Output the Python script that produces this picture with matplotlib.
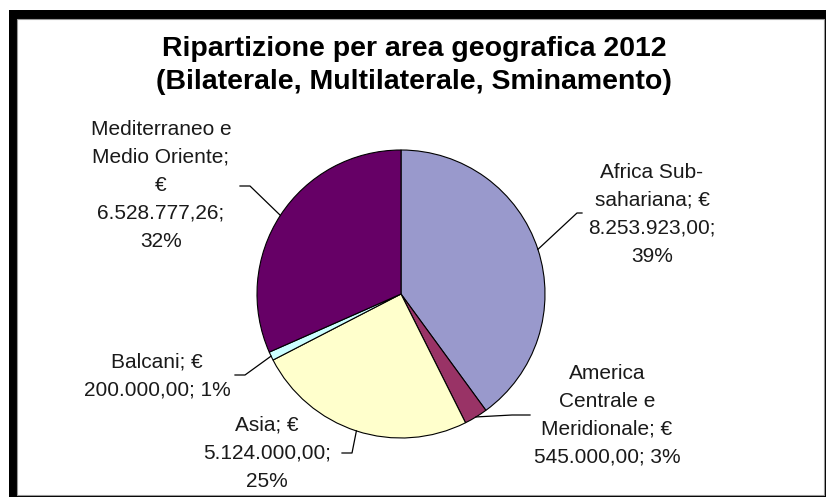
import numpy as np
import matplotlib.pyplot as plt
from matplotlib.patches import Rectangle

plt.rcParams['font.family'] = ['Liberation Sans', 'DejaVu Sans']

# Data
areas = ["Africa Sub-sahariana", "America Centrale e Meridionale", "Asia", "Balcani",
         "Mediterraneo e Medio Oriente"]
amounts = [8253923.00, 545000.00, 5124000.00, 200000.00, 6528777.26]
labels = [
    "Africa Sub-\nsahariana; €\n8.253.923,00;\n39%",
    "America\nCentrale e\nMeridionale; €\n545.000,00; 3%",
    "Asia; €\n5.124.000,00;\n25%",
    "Balcani; €\n200.000,00; 1%",
    "Mediterraneo e\nMedio Oriente;\n€\n6.528.777,26;\n32%",
]
colors = ["#9999CC", "#993366", "#FFFFCC", "#CCFFFF", "#660066"]
title = "Ripartizione per area geografica 2012\n(Bilaterale, Multilaterale, Sminamento)"

# Layout (pixel positions, y measured from the top)
W, H = 827, 498
pie_center = (401, 294)
pie_radius = 144
label_pos = [(652, 214), (607, 415), (267, 453), (157, 376), (161, 185)]
leader_elbow = [(577, 213), (512, 415), (352, 453), (245, 375), (250, 186)]
leader_end = [(582, 213), (530, 415), (342, 453), (235, 375), (240, 186)]

fig = plt.figure(figsize=(W / 100, H / 100), dpi=100)
ax = fig.add_axes([0, 0, 1, 1])

# frame: thick black on top/left, thin on bottom/right
ax.add_patch(Rectangle((9, H - 497), 817, 487, facecolor='black', edgecolor='none', zorder=0))
ax.add_patch(Rectangle((17, H - 495), 807, 476, facecolor='white', edgecolor='#999999',
                       linewidth=0.8, zorder=0))

wedges, _ = ax.pie(amounts, colors=colors, startangle=90, counterclock=False,
                   center=(pie_center[0], H - pie_center[1]), radius=pie_radius,
                   wedgeprops=dict(edgecolor='black', linewidth=0.8))

for w, lab, pos, elb, end in zip(wedges, labels, label_pos, leader_elbow, leader_end):
    mid = np.deg2rad((w.theta1 + w.theta2) / 2)
    ex = pie_center[0] + pie_radius * np.cos(mid)
    ey = H - pie_center[1] + pie_radius * np.sin(mid)
    ax.plot([ex, elb[0], end[0]], [ey, H - elb[1], H - end[1]], color='black', lw=0.9)
    ax.text(pos[0], H - pos[1], lab, ha='center', va='center', multialignment='center',
            fontsize=15, linespacing=1.6, color='#1a1a1a')

ax.text(414, H - 65, title, ha='center', va='center', fontsize=20.5, fontweight='bold',
        linespacing=1.35)

ax.set_xlim(0, W)
ax.set_ylim(0, H)
ax.set_aspect('auto')
ax.axis('off')

fig.savefig('out.png', dpi=100)
